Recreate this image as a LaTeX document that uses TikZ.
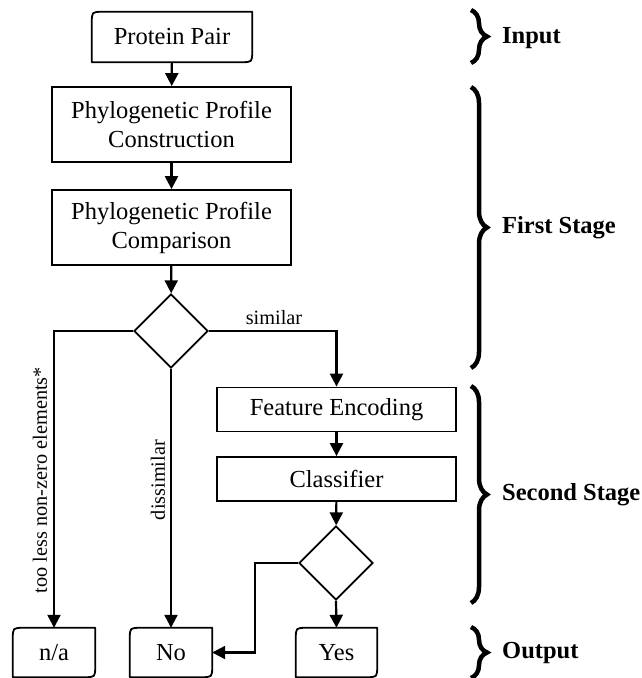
\documentclass[tikz,border=0pt]{standalone}
\usepackage{fontspec}
\setmainfont{Liberation Serif}
\usetikzlibrary{arrows.meta,calc,decorations.pathreplacing,shapes.geometric}

\begin{document}
\begin{tikzpicture}[x=1pt,y=-1pt,
  font=\fontsize{24.5}{29}\selectfont,
  box/.style={draw,line width=1.8pt,inner sep=0pt,align=center},
  term/.style={inner sep=0pt,align=center},
  decide/.style={draw,line width=1.8pt,diamond,minimum width=74pt,minimum height=74pt,inner sep=0pt},
  flow/.style={line width=2.2pt,-{Triangle[length=13pt,width=13pt]}},
  lbl/.style={font=\fontsize{20.3}{24}\selectfont,inner sep=0pt},
  stage/.style={font=\fontsize{24.5}{29}\selectfont\bfseries,anchor=west,inner sep=0pt},
  grp/.style={line width=4.5pt,decorate,decoration={brace,amplitude=16pt}},
]
\useasboundingbox (0,0) rectangle (642,678);

% first stage
\node[term,minimum width=160pt,minimum height=50pt] (pp) at (172,37) {Protein Pair};
\node[box,minimum width=239pt,minimum height=75pt] (c1) at (171.5,124.5) {Phylogenetic Profile\\Construction};
\node[box,minimum width=239pt,minimum height=75pt] (c2) at (171.5,227.5) {Phylogenetic Profile\\Comparison};
\node[decide] (d1) at (171,331) {};

% second stage
\node[box,minimum width=239pt,minimum height=44pt] (fe) at (336.5,409.5) {Feature Encoding};
\node[box,minimum width=239pt,minimum height=44pt] (cl) at (336.5,479) {Classifier};
\node[decide] (d2) at (336,563) {};

% outcomes
\node[term,minimum width=82pt,minimum height=49pt] (na) at (54,652.5) {n/a};
\node[term,minimum width=82pt,minimum height=49pt] (no) at (171,652.5) {No};
\node[term,minimum width=81pt,minimum height=49pt] (yes) at (336.5,652.5) {Yes};

% terminal outlines: rounded top-left and bottom-right corners
\foreach \n in {pp,na,no,yes}{
  \draw[line width=1.8pt,line join=round]
    ($(\n.north west)+(11,0)$) -- (\n.north east)
    -- ($(\n.south east)+(0,-11)$) .. controls (\n.south east) .. ($(\n.south east)+(-11,0)$)
    -- (\n.south west)
    -- ($(\n.north west)+(0,11)$) .. controls (\n.north west) .. cycle;
}

% connectors
\coordinate (bend) at (255,563);
\draw[flow] (pp) -- (c1);
\draw[flow] (c1) -- (c2);
\draw[flow] (c2) -- (d1);
\draw[flow] (d1.west) -| (na.north);
\draw[flow] (d1.south) -- (no.north);
\draw[flow] (d1.east) -| (fe.north);
\draw[flow] (fe) -- (cl);
\draw[flow] (cl) -- (d2);
\draw[flow] (d2.south) -- (yes.north);
\draw[flow] (d2.west) -- (bend) |- (no.east);

% branch labels
\node[lbl] (lsim) at (274,318) {similar};
\node[lbl,rotate=90] (lless) at (40,480) {too less non-zero elements*};
\node[lbl,rotate=90] (ldis) at (158,480) {dissimilar};

% stage braces
\coordinate (b1a) at (471,10);  \coordinate (b1b) at (471,63);
\coordinate (b2a) at (471,87);  \coordinate (b2b) at (471,368);
\coordinate (b3a) at (471,386); \coordinate (b3b) at (471,603);
\coordinate (b4a) at (471,627); \coordinate (b4b) at (471,678);
\draw[grp] (b1a) -- (b1b);
\draw[grp] (b2a) -- (b2b);
\draw[grp] (b3a) -- (b3b);
\draw[grp] (b4a) -- (b4b);
\node[stage] (sin) at (502,38) {Input};
\node[stage] (sfirst) at (502,228) {First Stage};
\node[stage] (ssecond) at (502,495) {Second Stage};
\node[stage] (sout) at (502,653) {Output};
\end{tikzpicture}
\end{document}
